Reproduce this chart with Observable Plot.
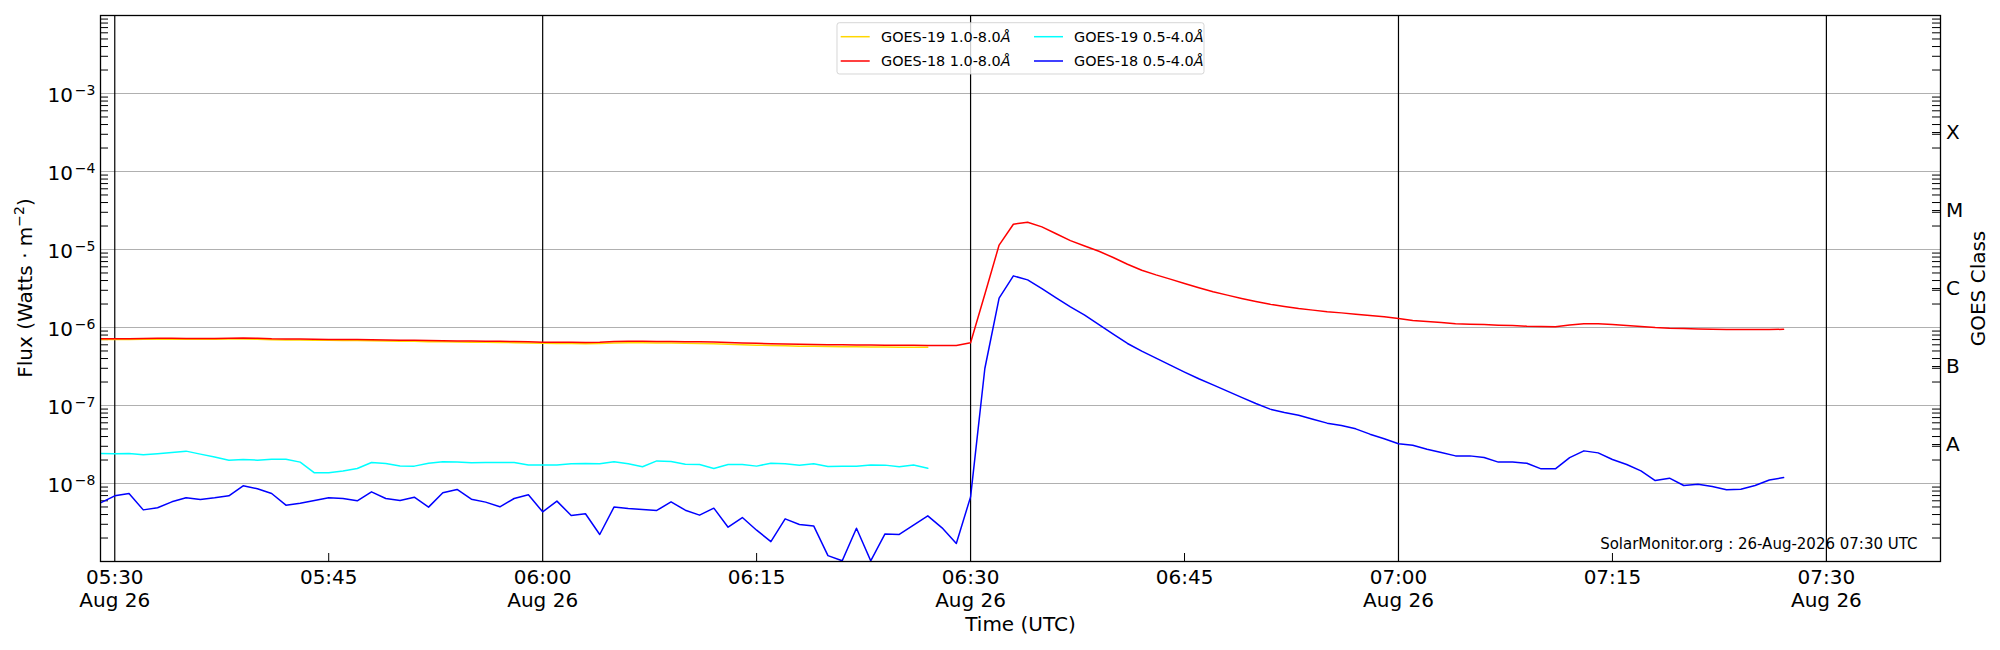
<!DOCTYPE html>
<html>
<head>
<meta charset="utf-8">
<script src="https://cdn.jsdelivr.net/npm/d3@7"></script>
<script src="https://cdn.jsdelivr.net/npm/@observablehq/plot@0.6"></script>
<style>
  body { margin: 0; background: #ffffff; }
  #chart { position: relative; width: 2000px; height: 650px; }
</style>
</head>
<body>
<div id="chart"></div>
<script>
// ---------------- data ----------------
const startTime = "2026-08-26T05:29:00Z";   // first sample, 1-minute cadence
const cadenceMs = 60000;

// GOES-18 1.0-8.0 Å (05:29 .. 07:27)
const goes18Long = [
  7.16e-7, 7.18e-7, 7.20e-7, 7.24e-7, 7.26e-7, 7.26e-7, 7.25e-7, 7.22e-7, 7.24e-7, 7.30e-7,
  7.35e-7, 7.28e-7, 7.16e-7, 7.12e-7, 7.10e-7, 7.06e-7, 7.03e-7, 7.02e-7, 7.00e-7, 6.96e-7,
  6.92e-7, 6.88e-7, 6.85e-7, 6.80e-7, 6.76e-7, 6.72e-7, 6.70e-7, 6.68e-7, 6.66e-7, 6.62e-7,
  6.56e-7, 6.49e-7, 6.48e-7, 6.45e-7, 6.44e-7, 6.48e-7, 6.60e-7, 6.64e-7, 6.64e-7, 6.61e-7,
  6.60e-7, 6.57e-7, 6.55e-7, 6.50e-7, 6.42e-7, 6.34e-7, 6.26e-7, 6.20e-7, 6.14e-7, 6.09e-7,
  6.05e-7, 6.02e-7, 6.00e-7, 5.98e-7, 5.95e-7, 5.93e-7, 5.91e-7, 5.90e-7, 5.89e-7, 5.88e-7,
  5.88e-7, 6.36e-7, 2.67e-6, 1.14e-5, 2.11e-5, 2.24e-5, 1.95e-5, 1.59e-5, 1.30e-5, 1.11e-5,
  9.50e-6, 7.89e-6, 6.48e-6, 5.43e-6, 4.73e-6, 4.17e-6, 3.67e-6, 3.23e-6, 2.87e-6, 2.60e-6,
  2.36e-6, 2.16e-6, 1.99e-6, 1.86e-6, 1.75e-6, 1.67e-6, 1.59e-6, 1.54e-6, 1.48e-6, 1.43e-6,
  1.37e-6, 1.30e-6, 1.23e-6, 1.19e-6, 1.16e-6, 1.12e-6, 1.10e-6, 1.09e-6, 1.07e-6, 1.06e-6,
  1.04e-6, 1.03e-6, 1.02e-6, 1.08e-6, 1.12e-6, 1.12e-6, 1.09e-6, 1.06e-6, 1.03e-6, 1.00e-6,
  9.8e-7, 9.7e-7, 9.6e-7, 9.5e-7, 9.4e-7, 9.4e-7, 9.4e-7, 9.4e-7, 9.5e-7
];

// GOES-18 0.5-4.0 Å (05:29 .. 07:27)
const goes18Short = [
  5.65e-9, 6.95e-9, 7.44e-9, 4.59e-9, 4.88e-9, 5.82e-9, 6.55e-9, 6.24e-9, 6.55e-9, 6.95e-9,
  9.33e-9, 8.55e-9, 7.44e-9, 5.27e-9, 5.60e-9, 6.05e-9, 6.55e-9, 6.42e-9, 6.00e-9, 7.82e-9,
  6.42e-9, 6.05e-9, 6.68e-9, 4.98e-9, 7.59e-9, 8.38e-9, 6.30e-9, 5.77e-9, 5.03e-9, 6.42e-9,
  7.16e-9, 4.33e-9, 5.94e-9, 3.89e-9, 4.09e-9, 2.22e-9, 4.98e-9, 4.78e-9, 4.64e-9, 4.51e-9,
  5.82e-9, 4.55e-9, 3.93e-9, 4.83e-9, 2.75e-9, 3.66e-9, 2.52e-9, 1.80e-9, 3.52e-9, 2.98e-9,
  2.86e-9, 1.19e-9, 1.02e-9, 2.67e-9, 1.02e-9, 2.26e-9, 2.22e-9, 2.92e-9, 3.85e-9, 2.70e-9,
  1.70e-9, 6.74e-9, 2.98e-7, 2.38e-6, 4.59e-6, 4.08e-6, 3.16e-6, 2.40e-6, 1.84e-6, 1.44e-6,
  1.09e-6, 8.22e-7, 6.24e-7, 4.97e-7, 4.05e-7, 3.29e-7, 2.68e-7, 2.20e-7, 1.84e-7, 1.53e-7,
  1.27e-7, 1.06e-7, 8.98e-8, 8.13e-8, 7.52e-8, 6.68e-8, 5.94e-8, 5.54e-8, 5.02e-8, 4.29e-8,
  3.74e-8, 3.23e-8, 3.10e-8, 2.75e-8, 2.49e-8, 2.26e-8, 2.26e-8, 2.15e-8, 1.88e-8, 1.88e-8,
  1.82e-8, 1.54e-8, 1.54e-8, 2.15e-8, 2.62e-8, 2.47e-8, 2.03e-8, 1.75e-8, 1.45e-8, 1.09e-8,
  1.17e-8, 9.42e-9, 9.80e-9, 9.16e-9, 8.30e-9, 8.46e-9, 9.42e-9, 1.11e-8, 1.19e-8
];

// GOES-19 1.0-8.0 Å (05:29 .. 06:27)
const goes19Long = [
  7.00e-7, 7.02e-7, 7.04e-7, 7.06e-7, 7.08e-7, 7.08e-7, 7.07e-7, 7.05e-7, 7.06e-7, 7.10e-7,
  7.14e-7, 7.08e-7, 6.98e-7, 6.93e-7, 6.90e-7, 6.87e-7, 6.84e-7, 6.82e-7, 6.80e-7, 6.75e-7,
  6.71e-7, 6.67e-7, 6.64e-7, 6.59e-7, 6.55e-7, 6.51e-7, 6.48e-7, 6.46e-7, 6.43e-7, 6.39e-7,
  6.33e-7, 6.27e-7, 6.25e-7, 6.22e-7, 6.20e-7, 6.24e-7, 6.35e-7, 6.38e-7, 6.37e-7, 6.33e-7,
  6.31e-7, 6.27e-7, 6.24e-7, 6.18e-7, 6.10e-7, 6.02e-7, 5.94e-7, 5.88e-7, 5.82e-7, 5.77e-7,
  5.73e-7, 5.70e-7, 5.68e-7, 5.66e-7, 5.63e-7, 5.61e-7, 5.59e-7, 5.58e-7, 5.57e-7
];

// GOES-19 0.5-4.0 Å (05:29 .. 06:27)
const goes19Short = [
  2.43e-8, 2.40e-8, 2.43e-8, 2.33e-8, 2.40e-8, 2.49e-8, 2.60e-8, 2.38e-8, 2.18e-8, 1.99e-8,
  2.03e-8, 1.99e-8, 2.05e-8, 2.05e-8, 1.88e-8, 1.37e-8, 1.37e-8, 1.45e-8, 1.56e-8, 1.86e-8,
  1.80e-8, 1.68e-8, 1.67e-8, 1.82e-8, 1.90e-8, 1.88e-8, 1.84e-8, 1.86e-8, 1.86e-8, 1.86e-8,
  1.73e-8, 1.73e-8, 1.73e-8, 1.79e-8, 1.80e-8, 1.79e-8, 1.90e-8, 1.79e-8, 1.64e-8, 1.95e-8,
  1.92e-8, 1.77e-8, 1.75e-8, 1.56e-8, 1.75e-8, 1.75e-8, 1.67e-8, 1.82e-8, 1.79e-8, 1.72e-8,
  1.79e-8, 1.65e-8, 1.67e-8, 1.67e-8, 1.73e-8, 1.72e-8, 1.64e-8, 1.73e-8, 1.57e-8
];

const seriesNames  = ["GOES-19 1.0-8.0", "GOES-18 1.0-8.0", "GOES-19 0.5-4.0", "GOES-18 0.5-4.0"];
const seriesColors = ["#ffd700", "#ff0000", "#00ffff", "#0000ff"];

const xDomain = ["2026-08-26T05:29:00Z", "2026-08-26T07:38:00Z"];
const yDomain = [1e-9, 1e-2];

const decadeTicks     = [1e-8, 1e-7, 1e-6, 1e-5, 1e-4, 1e-3];
const decadeExponents = ["−8", "−7", "−6", "−5", "−4", "−3"];
const minorMantissas  = [2, 3, 4, 5, 6, 7, 8, 9];
const minorDecades    = [1e-9, 1e-8, 1e-7, 1e-6, 1e-5, 1e-4, 1e-3];

const xTickTimes  = ["05:30", "05:45", "06:00", "06:15", "06:30", "06:45", "07:00", "07:15", "07:30"];
const xTickLabels = ["05:30\nAug 26", "05:45", "06:00\nAug 26", "06:15", "06:30\nAug 26", "06:45", "07:00\nAug 26", "07:15", "07:30\nAug 26"];
const xMajorTimes = ["05:30", "06:00", "06:30", "07:00", "07:30"];

const classLabels  = ["A", "B", "C", "M", "X"];
const classCenters = [3.16e-8, 3.16e-7, 3.16e-6, 3.16e-5, 3.16e-4];

const footerText = "SolarMonitor.org : 26-Aug-2026 07:30 UTC";

// ---------------- build ----------------
const t0 = Date.parse(startTime);
const toRows = (vals) => vals.map((v, i) => ({t: new Date(t0 + i * cadenceMs), v}));
const series = [goes19Long, goes18Long, goes19Short, goes18Short].map(toRows);
const hm = (s) => new Date("2026-08-26T" + s + ":00Z");
const xTickDates = xTickTimes.map(hm);
const labelByTime = new Map(xTickDates.map((d, i) => [+d, xTickLabels[i]]));
const majorDates = xMajorTimes.map(hm);
const minorXDates = xTickTimes.filter(s => !xMajorTimes.includes(s)).map(hm);
const minorY = minorDecades.flatMap(dec => minorMantissas.map(m => m * dec));

const W = 2000, H = 650, ML = 100, MR = 60, MT = 15, MB = 89;
const frameW = W - ML - MR, frameH = H - MT - MB;
const tickLen = 8;

const plot = Plot.plot({
  width: W, height: H,
  marginLeft: ML, marginRight: MR, marginTop: MT, marginBottom: MB,
  style: {fontFamily: "'DejaVu Sans', sans-serif", fontSize: "20px", color: "black", background: "white", overflow: "visible"},
  x: {type: "utc", domain: xDomain.map(d => new Date(d))},
  y: {type: "log", domain: yDomain, axis: null},
  marks: [
    Plot.ruleY(decadeTicks, {stroke: "#b0b0b0", strokeWidth: 1}),
    Plot.ruleX(majorDates, {stroke: "black", strokeWidth: 1.2}),
    Plot.tickY(minorY, {y: d => d, insetRight: frameW - tickLen, stroke: "black", strokeWidth: 1}),
    Plot.tickY(minorY.concat(classCenters), {y: d => d, insetLeft: frameW - tickLen, stroke: "black", strokeWidth: 1}),
    Plot.tickX(minorXDates, {x: d => d, insetTop: frameH - tickLen, stroke: "black", strokeWidth: 1}),
    ...series.map((rows, i) => Plot.line(rows, {x: "t", y: "v", stroke: seriesColors[i], strokeWidth: 1.5, clip: true})),
    Plot.frame({stroke: "black", strokeWidth: 1.3}),
    Plot.axisX({ticks: xTickDates, tickFormat: d => labelByTime.get(+d), tickSize: 0, tickPadding: 6.5,
                fontSize: 20, lineHeight: 1.13, label: null}),
    Plot.text(decadeTicks, {y: d => d, frameAnchor: "left", text: () => "10", textAnchor: "end",
                            lineAnchor: "bottom", dx: -27.5, dy: 8.4, fontSize: 20}),
    Plot.text(decadeTicks, {y: d => d, frameAnchor: "left", text: (d, i) => decadeExponents[i], textAnchor: "end",
                            lineAnchor: "bottom", dx: -5, dy: 1.7, fontSize: 14}),
    Plot.text(classCenters, {y: d => d, frameAnchor: "right", text: (d, i) => classLabels[i], textAnchor: "start",
                             dx: 5.5, fontSize: 20}),
    Plot.text(["GOES Class"], {text: d => d, frameAnchor: "right", rotate: -90, dx: 44, lineAnchor: "bottom",
                               textAnchor: "middle", fontSize: 20}),
    Plot.text(["Time (UTC)"], {text: d => d, frameAnchor: "bottom", dy: 69, lineAnchor: "bottom", fontSize: 20}),
    Plot.text([footerText], {text: d => d, frameAnchor: "bottom-right", dx: -23, dy: -13, textAnchor: "end",
                             lineAnchor: "bottom", fontSize: 15})
  ]
});

document.getElementById("chart").appendChild(plot);

// y-axis title with superscript
const svg = d3.select(plot);
const yt = svg.append("text")
  .attr("transform", "translate(32,288) rotate(-90)")
  .attr("text-anchor", "middle").attr("font-size", 20).attr("fill", "black");
yt.append("tspan").text("Flux (Watts · m");
yt.append("tspan").attr("dy", -8).attr("font-size", 14).text("−2");
yt.append("tspan").attr("dy", 8).text(")");

// legend (two columns, column-major)
const legend = {x: 837, y: 22.7, w: 367, h: 51.3, rows: [36.7, 61], lineX: [840.7, 1034], lineLen: 29, textX: [881, 1074]};
const lg = svg.append("g").attr("font-size", 14.4).attr("fill", "black").attr("text-anchor", "start");
lg.append("rect").attr("x", legend.x).attr("y", legend.y).attr("width", legend.w).attr("height", legend.h)
  .attr("rx", 2.5).attr("fill", "white").attr("fill-opacity", 0.8).attr("stroke", "#cccccc").attr("stroke-opacity", 0.8);
seriesNames.forEach((name, i) => {
  const col = Math.floor(i / 2), row = i % 2;
  const cy = legend.rows[row];
  lg.append("line").attr("x1", legend.lineX[col]).attr("x2", legend.lineX[col] + legend.lineLen)
    .attr("y1", cy).attr("y2", cy).attr("stroke", seriesColors[i]).attr("stroke-width", 1.5);
  const tx = lg.append("text").attr("x", legend.textX[col]).attr("y", cy).attr("dy", "0.36em").attr("text-anchor", "start");
  tx.append("tspan").text(name);
  tx.append("tspan").attr("font-style", "italic").text("Å");
});
</script>
</body>
</html>
